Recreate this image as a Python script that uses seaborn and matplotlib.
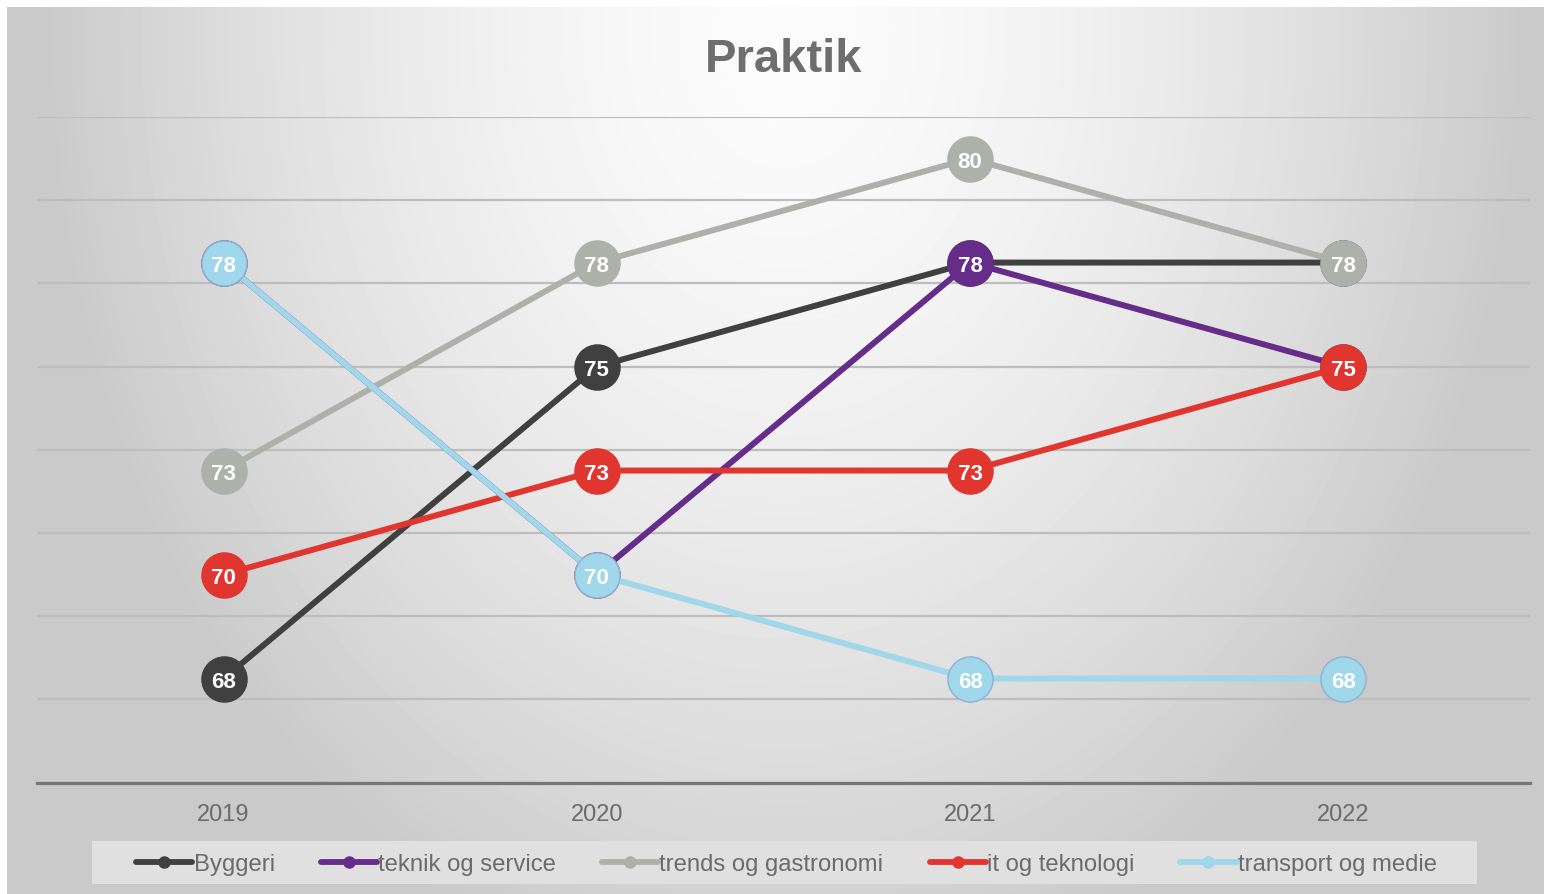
import math
import numpy as np
import pandas as pd
import matplotlib
matplotlib.use("Agg")
import matplotlib.pyplot as plt
import seaborn as sns
from matplotlib.lines import Line2D
from matplotlib.patches import Rectangle

# ---------------- data ----------------
years = ["2019", "2020", "2021", "2022"]
series_names = ["Byggeri", "teknik og service", "trends og gastronomi",
                "it og teknologi", "transport og medie"]
byggeri = [67.5, 75.0, 77.5, 77.5]
teknik = [77.5, 70.0, 77.5, 75.0]
trends = [72.5, 77.5, 80.0, 77.5]
it_tek = [70.0, 72.5, 72.5, 75.0]
transport = [77.5, 70.0, 67.5, 67.5]
all_values = [byggeri, teknik, trends, it_tek, transport]

colors = ["#404040", "#652c8a", "#aeb1a9", "#e13530", "#a0d7ea"]
edge_colors = ["#404040", "#652c8a", "#aeb1a9", "#e13530", "#8fb0d6"]

rows = []
for name, vals in zip(series_names, all_values):
    for i, v in enumerate(vals):
        rows.append({"series": name, "pos": i, "value": v})
df = pd.DataFrame(rows)

# ---------------- figure ----------------
sns.set_style("white")
plt.rcParams["font.family"] = ["Liberation Sans", "DejaVu Sans"]

W, H = 1544, 895
fig = plt.figure(figsize=(W / 100, H / 100), dpi=100)
fig.patch.set_facecolor("white")

# gradient background
bg = fig.add_axes([0, 0, 1, 1], zorder=-10)
yy, xx = np.mgrid[0:H, 0:W]
r = np.sqrt(((xx - 784) / 760.0) ** 2 + ((yy - 30) / 1000.0) ** 2)
img = 0.985 - 0.2 * r ** 1.6
img = np.clip(img, 0.79, 1.0)
img[:8, :] = 1.0
img[:, :7] = 1.0
bg.imshow(img, cmap="gray", vmin=0, vmax=1, aspect="auto",
          extent=(0, W, H, 0), interpolation="bilinear")
bg.set_xlim(0, W)
bg.set_ylim(H, 0)
bg.axis("off")

# legend box
fig.patches.append(Rectangle((92 / W, 1 - 885 / H), (1477 - 92) / W, 43 / H,
                             transform=fig.transFigure, facecolor="#e0e0e0",
                             edgecolor="none", zorder=-5))

ax = fig.add_axes([37 / W, 1 - 783.5 / H, (1530 - 37) / W, (783.5 - 118) / H])
ax.set_facecolor("none")

sns.lineplot(data=df, x="pos", y="value", hue="series", hue_order=series_names,
             palette=colors, marker="o", markersize=32.5, linewidth=4.3,
             sort=False, legend=False, ax=ax)

for i, line in enumerate(ax.lines):
    line.set_zorder(3 + 2 * i)
    line.set_markeredgecolor(edge_colors[i])
    line.set_markeredgewidth(1.0)
    line.set_solid_capstyle("round")

for i, vals in enumerate(all_values):
    for x, v in enumerate(vals):
        ax.text(x, v, str(int(math.floor(v + 0.5))), ha="center",
                va="center_baseline", color="white", fontsize=16,
                fontweight="bold", zorder=4 + 2 * i)

ax.set_xlim(-0.5, 3.5)
ax.set_ylim(65, 81)
ax.set_yticks(np.arange(65, 82, 2))
ax.set_xticks(range(len(years)))
ax.set_xticklabels(years)
ax.yaxis.grid(True, color="#bdbdbd", linewidth=1.6)
ax.set_axisbelow(True)
ax.tick_params(axis="y", left=False, labelleft=False)
ax.tick_params(axis="x", length=0, pad=15, labelsize=17, labelcolor="#6b6b6b")
for s in ["left", "right", "top"]:
    ax.spines[s].set_visible(False)
ax.spines["bottom"].set_color("#767676")
ax.spines["bottom"].set_linewidth(2.3)
ax.set_xlabel("")
ax.set_ylabel("")

fig.text(784 / W, 1 - 60 / H, "Praktik", ha="center", va="center",
         fontsize=34, fontweight="bold", color="#6e6e6e")

handles = [Line2D([0], [0], color=c, linewidth=4.2, marker="o", markersize=8,
                  markeredgecolor=c) for c in colors]
fig.legend(handles, series_names, loc="center",
           bbox_to_anchor=(786.5 / W, 1 - 865.5 / H), ncol=5, frameon=False,
           fontsize=17.2, handlelength=2.35, handletextpad=0.05,
           columnspacing=1.93, labelcolor="#6b6b6b")

fig.savefig("out.png", dpi=100, facecolor=fig.get_facecolor())
